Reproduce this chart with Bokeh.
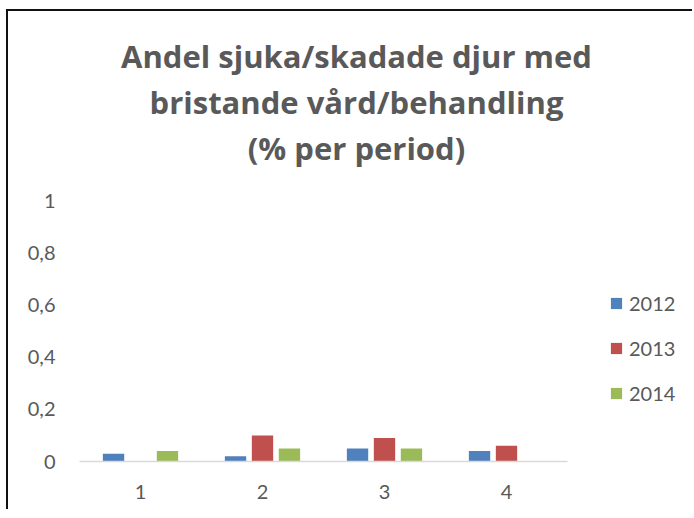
from bokeh.plotting import figure
from bokeh.models import Legend, LegendItem, Label, FixedTicker, ColumnDataSource
from bokeh.transform import dodge
from bokeh.embed import file_html
from bokeh.resources import INLINE

# ---- data ----
periods = [1, 2, 3, 4]
period_labels = ["1", "2", "3", "4"]
years = ["2012", "2013", "2014"]
values_2012 = [0.03, 0.02, 0.05, 0.04]
values_2013 = [0.0, 0.10, 0.09, 0.06]
values_2014 = [0.04, 0.05, 0.05, 0.0]
y_ticks = [0, 0.2, 0.4, 0.6, 0.8, 1]
y_tick_labels = ["0", "0,2", "0,4", "0,6", "0,8", "1"]
title_lines = ["Andel sjuka/skadade djur med", "bristande vård/behandling", "(% per period)"]

# ---- styling / geometry ----
colors = ["#4F81BD", "#C0504D", "#9BBB59"]
text_color = "#595959"
FONT = "Lato"
TITLE_FONT = "Open Sans"
W, H = 686, 500
LEFT = 71            # frame left (px)
BOTTOM_PAD = 50      # space below frame bottom (y = 0)
PX_PER_CAT = 122     # px per category unit
PX_PER_Y = 261       # px per y unit
frame_h = H - BOTTOM_PAD
x_end = 0.5 + (W - LEFT) / PX_PER_CAT
y_end = frame_h / PX_PER_Y

src = ColumnDataSource(dict(x=periods, v2012=values_2012, v2013=values_2013, v2014=values_2014))

p = figure(width=W, height=H, x_range=(0.5, x_end), y_range=(0, y_end),
           output_backend="svg", toolbar_location=None,
           min_border_left=LEFT, min_border_right=0, min_border_top=0,
           min_border_bottom=BOTTOM_PAD, outline_line_color=None,
           styles={"margin-left": "6px", "margin-top": "9px",
                   "border-left": "2px solid #111111", "border-top": "2px solid #111111"})
p.xgrid.visible = False
p.ygrid.visible = False

offsets = [-0.221, 0.0, 0.221]
cols = ["v2012", "v2013", "v2014"]
renderers = []
for off, col, c in zip(offsets, cols, colors):
    r = p.vbar(x=dodge("x", off, range=p.x_range), top=col, width=0.175, source=src,
               fill_color=c, line_color=None)
    renderers.append(r)

# x axis
xa = p.xaxis[0]
xa.bounds = (0.5, 4.5)
xa.ticker = FixedTicker(ticks=periods)
xa.major_label_overrides = {k: v for k, v in zip(periods, period_labels)}
xa.axis_line_color = "#D9D9D9"
xa.axis_line_width = 1.5
xa.major_tick_line_color = None
xa.minor_tick_line_color = None
xa.major_label_standoff = 17
xa.major_label_text_font = FONT
xa.major_label_text_font_size = "20px"
xa.major_label_text_color = text_color

# y axis
ya = p.yaxis[0]
ya.bounds = (0, 1)
ya.ticker = FixedTicker(ticks=y_ticks)
ya.major_label_overrides = {k: v for k, v in zip(y_ticks, y_tick_labels)}
ya.axis_line_color = None
ya.major_tick_line_color = None
ya.minor_tick_line_color = None
ya.major_tick_out = 0
ya.major_label_standoff = 24
ya.major_label_text_font = FONT
ya.major_label_text_font_size = "20px"
ya.major_label_text_color = text_color

# legend
legend = Legend(items=[LegendItem(label=y, renderers=[r]) for y, r in zip(years, renderers)],
                location=(530, 56), glyph_width=14, glyph_height=14, label_standoff=6,
                label_height=24, spacing=21, padding=0, margin=0, border_line_color=None,
                background_fill_alpha=0, label_text_font=FONT,
                label_text_font_size="20px", label_text_color=text_color)
p.add_layout(legend)

# title lines
baselines = [406, 360, 314]
for line, yb in zip(title_lines, baselines):
    p.add_layout(Label(x=277, y=yb, x_units="screen", y_units="screen", text=line,
                       text_align="center", text_baseline="alphabetic",
                       text_font=TITLE_FONT, text_font_style="bold", text_font_size="31px",
                       text_color=text_color))

open("out.html", "w").write(file_html(p, INLINE))
